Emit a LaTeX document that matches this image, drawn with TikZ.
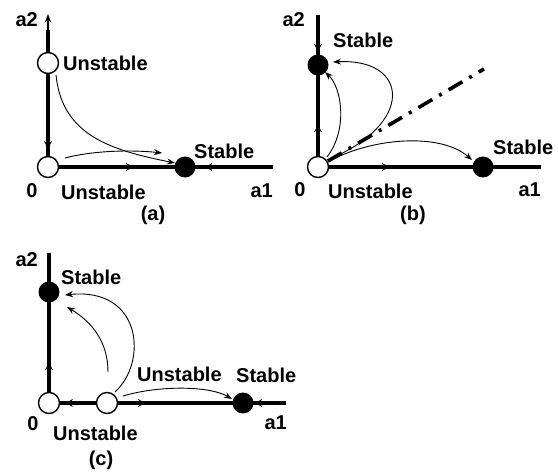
\documentclass[tikz,border=0pt]{standalone}
\usepackage{fontspec}
\setmainfont{Liberation Sans}
\usetikzlibrary{arrows.meta,decorations.markings}
\tikzset{
  axis/.style={line width=3.4pt},
  openpt/.style={circle,draw,fill=white,line width=1.4pt,minimum size=21pt,inner sep=0pt},
  fullpt/.style={circle,fill=black,minimum size=21pt,inner sep=0pt},
  flow/.style={line width=0.9pt,-{Stealth[length=8pt,width=6pt]}},
  lbl/.style={font=\bfseries\fontsize{20}{20}\selectfont,inner sep=0pt},
  midarrow/.style={postaction={decorate},decoration={markings,mark=at position #1 with {\arrow{Stealth[length=7pt,width=8pt]}}}},
  dashdot/.style={line width=3.6pt,dash pattern=on 16pt off 8pt on 3pt off 8pt}
}
\begin{document}
\begin{tikzpicture}[x=1pt,y=-1pt]
\useasboundingbox (0,0) rectangle (558,473);
% ===== (a)
\coordinate (T1) at (48,14);
\coordinate (R1) at (273,167);
\draw[axis] (48,63) -- (48,30);
\draw[line width=1.4pt,-{Stealth[length=8pt,width=6pt]}] (48,32) -- (T1);
\draw[axis] (48,167) -- (R1);
\draw[axis,midarrow=0.82] (48,63) -- (48,167);
\draw[axis,midarrow=0.62] (48,167) -- (185,167);
\draw[axis,midarrow=0.77] (R1) -- (185,167);
\node[openpt] (U1) at (48,63) {};
\node[openpt] (O1) at (48,167) {};
\node[fullpt] (S1) at (185,167) {};
\draw[flow] ([shift={(8,12)}]U1.center) .. controls (62,135) and (110,150) .. ([shift={(-10,-4)}]S1.center);
\draw[flow] ([shift={(17,-9)}]O1.center) .. controls (95,150) and (135,150) .. ([shift={(-23,-14)}]S1.center);
\node[lbl,anchor=east] (a2a) at (38,20) {a2};
\node[lbl,anchor=west] (ua1) at (63,63) {Unstable};
\node[lbl,anchor=west] (sa1) at (194,151) {Stable};
\node[lbl] (za) at (32,191) {0};
\node[lbl,anchor=west] (ua2) at (61,192) {Unstable};
\node[lbl,anchor=east] (a1a) at (273,191) {a1};
\node[lbl] (capa) at (153,215) {(a)};
% ===== (b)
\coordinate (T2) at (318,15);
\coordinate (R2) at (541,167);
\draw[axis,midarrow=0.72] (T2) -- (318,65);
\draw[axis,midarrow=0.41] (318,167) -- (318,65);
\draw[axis,midarrow=0.43] (318,167) -- (483,167);
\draw[axis] (483,167) -- (R2);
\node[openpt] (O2) at (318,167) {};
\node[fullpt] (S2a) at (318,65) {};
\node[fullpt] (S2b) at (483,167) {};
\coordinate (D2) at (484,69);
\draw[dashdot] ([shift={(10,-6)}]O2.center) -- (D2);
\draw[flow] ([shift={(9,-10)}]O2.center) .. controls (348,130) and (342,88) .. ([shift={(7,7)}]S2a.center);
\draw[flow] ([shift={(9,-7)}]O2.center) .. controls (415,125) and (410,58) .. ([shift={(15,-3)}]S2a.center);
\draw[flow] ([shift={(10,-5)}]O2.center) .. controls (370,138) and (440,132) .. ([shift={(-11,-7)}]S2b.center);
\node[lbl,anchor=east] (a2b) at (305,20) {a2};
\node[lbl,anchor=west] (sb1) at (333,40) {Stable};
\node[lbl,anchor=west] (sb2) at (493,147) {Stable};
\node[lbl] (zb) at (300,190) {0};
\node[lbl,anchor=west] (ub) at (328,191) {Unstable};
\node[lbl,anchor=east] (a1b) at (541,190) {a1};
\node[lbl] (capb) at (413,215) {(b)};
% ===== (c)
\coordinate (T3) at (49,253);
\coordinate (R3) at (286,403);
\draw[axis,midarrow=0.97] (T3) -- (49,292);
\draw[axis,midarrow=0.36] (49,403) -- (49,292);
\draw[axis,midarrow=0.71] (107,403) -- (49,403);
\draw[axis,midarrow=0.28] (107,403) -- (243,403);
\draw[axis,midarrow=0.72] (R3) -- (243,403);
\node[openpt] (O3) at (49,403) {};
\node[openpt] (M3) at (107,403) {};
\node[fullpt] (S3a) at (49,292) {};
\node[fullpt] (S3b) at (243,403) {};
\draw[flow] ([shift={(1,-31)}]M3.center) .. controls (108,342) and (92,322) .. ([shift={(18,15)}]S3a.center);
\draw[flow] ([shift={(8,-11)}]M3.center) .. controls (148,362) and (142,287) .. ([shift={(16,3)}]S3a.center);
\draw[flow] ([shift={(16,-7)}]M3.center) .. controls (160,385) and (210,386) .. ([shift={(-11,-4)}]S3b.center);
\node[lbl,anchor=east] (a2c) at (38,260) {a2};
\node[lbl,anchor=west] (sc1) at (61,277) {Stable};
\node[lbl,anchor=west] (uc1) at (137,374) {Unstable};
\node[lbl,anchor=west] (sc2) at (236,375) {Stable};
\node[lbl] (zc) at (33,424) {0};
\node[lbl,anchor=west] (uc2) at (53,433) {Unstable};
\node[lbl,anchor=east] (a1c) at (287,423) {a1};
\node[lbl] (capc) at (101,460) {(c)};
\end{tikzpicture}
\end{document}
